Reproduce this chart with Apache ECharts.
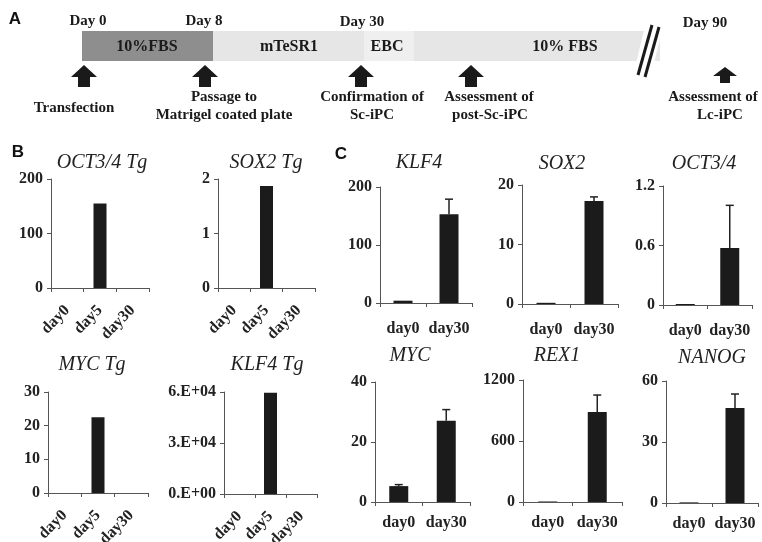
<!DOCTYPE html>
<html><head><meta charset="utf-8">
<script src="https://cdn.jsdelivr.net/npm/echarts@6/dist/echarts.min.js"></script>
<style>html,body{margin:0;padding:0;background:#fff}#c{width:762px;height:542px}</style>
</head><body><div id="c"></div>
<script>
// ---------- data ----------
const bCategories = ['day0', 'day5', 'day30'];
const cCategories = ['day0', 'day30'];

const bTitles = ['OCT3/4 Tg', 'SOX2 Tg', 'MYC Tg', 'KLF4 Tg'];
const oct34TgValues = [0, 155, 0];
const sox2TgValues = [0, 1.87, 0];
const mycTgValues = [0, 22.5, 0];
const klf4TgValues = [0, 59500, 0];
const bAxisMax = [200, 2, 30, 60000];
const bAxisStep = [100, 1, 10, 30000];

const cTitles = ['KLF4', 'SOX2', 'OCT3/4', 'MYC', 'REX1', 'NANOG'];
const klf4Values = [4, 153];     const klf4Errors = [0, 26];
const sox2Values = [0.2, 17.3];  const sox2Errors = [0, 0.7];
const oct34Values = [0.01, 0.575]; const oct34Errors = [0, 0.43];
const mycValues = [5.3, 27.1];   const mycErrors = [0.5, 3.7];
const rex1Values = [5, 885];     const rex1Errors = [0, 167];
const nanogValues = [0.3, 46.7]; const nanogErrors = [0, 6.9];
const cAxisMax = [200, 20, 1.2, 40, 1200, 60];
const cAxisStep = [100, 10, 0.6, 20, 600, 30];

const dayLabels = ['Day 0', 'Day 8', 'Day 30', 'Day 90'];
const stageLabels = ['10%FBS', 'mTeSR1', 'EBC', '10% FBS'];
const eventLabels = [['Transfection'], ['Passage to', 'Matrigel coated plate'], ['Confirmation of', 'Sc-iPC'], ['Assessment of', 'post-Sc-iPC'], ['Assessment of', 'Lc-iPC']];

// ---------- layout ----------
const SERIF = '"Liberation Serif", "Times New Roman", serif';
const SANS = '"Liberation Sans", Arial, sans-serif';
const AX = '#555';
const BAR = '#1b1b1b';

const bValues = [oct34TgValues, sox2TgValues, mycTgValues, klf4TgValues];
const bGrids = [
  {left: 51, top: 179, width: 98, height: 109},
  {left: 218, top: 179, width: 97, height: 109},
  {left: 48, top: 392, width: 100, height: 101},
  {left: 224, top: 392, width: 93, height: 102}
];
const bTitlePos = [[102, 163], [266, 163], [92, 365], [267, 365]];

const cValues = [klf4Values, sox2Values, oct34Values, mycValues, rex1Values, nanogValues];
const cErrors = [klf4Errors, sox2Errors, oct34Errors, mycErrors, rex1Errors, nanogErrors];
const cGrids = [
  {left: 380, top: 187, width: 92, height: 116},
  {left: 522, top: 185, width: 96, height: 119},
  {left: 663, top: 186, width: 89, height: 119},
  {left: 375, top: 382, width: 95, height: 120},
  {left: 523, top: 380, width: 99, height: 122},
  {left: 666, top: 381, width: 92, height: 122}
];
const cTitlePos = [[419, 163], [562, 164], [704, 164], [410, 356], [557, 356], [712, 358]];

const grids = [], xAxes = [], yAxes = [], series = [], graphics = [];

function sciFmt(v) {
  if (v === 0) return '0.E+00';
  const e = Math.floor(Math.log10(v));
  const m = Math.round(v / Math.pow(10, e));
  return m + '.E+' + String(e).padStart(2, '0');
}

function yAxisFor(i, max, step, fmt) {
  return {
    type: 'value', gridIndex: i, min: 0, max: max, interval: step,
    splitLine: {show: false},
    axisLine: {show: true, lineStyle: {color: AX, width: 1}},
    axisTick: {show: true, length: 4, lineStyle: {color: AX}},
    axisLabel: {fontFamily: SERIF, fontWeight: 'bold', fontSize: 16, color: '#222', margin: 8,
      formatter: fmt || (v => String(Math.round(v * 100) / 100))}
  };
}

function errorRender(params, api) {
  const x = api.value(0), v = api.value(1), e = api.value(2);
  if (!e) return null;
  const top = api.coord([x, v + e]);
  const base = api.coord([x, v]);
  const st = {stroke: '#222', lineWidth: 1.5};
  return {type: 'group', children: [
    {type: 'line', shape: {x1: top[0], y1: top[1], x2: base[0], y2: base[1]}, style: st},
    {type: 'line', shape: {x1: top[0] - 4, y1: top[1], x2: top[0] + 4, y2: top[1]}, style: st}
  ]};
}

function gridOf(g) {
  return Object.assign({containLabel: false, outerBoundsMode: 'none'}, g);
}

// Panel B
bValues.forEach((vals, k) => {
  const i = grids.length;
  grids.push(gridOf(bGrids[k]));
  xAxes.push({
    type: 'category', gridIndex: i, data: bCategories, boundaryGap: true,
    axisLine: {lineStyle: {color: AX, width: 1}},
    axisTick: {show: true, length: 4, alignWithLabel: false, lineStyle: {color: AX}},
    axisLabel: {rotate: 45, interval: 0, fontFamily: SERIF, fontWeight: 'bold', fontSize: 16, color: '#222', margin: 20}
  });
  yAxes.push(yAxisFor(i, bAxisMax[k], bAxisStep[k], k === 3 ? sciFmt : null));
  series.push({type: 'bar', xAxisIndex: i, yAxisIndex: i, data: vals, barWidth: 13,
    itemStyle: {color: BAR}, silent: true});
  graphics.push({type: 'text', x: bTitlePos[k][0], y: bTitlePos[k][1],
    style: {text: bTitles[k], font: 'italic 20px ' + SERIF, fill: '#222', align: 'center', verticalAlign: 'middle'}});
});

// Panel C
cValues.forEach((vals, k) => {
  const i = grids.length;
  grids.push(gridOf(cGrids[k]));
  xAxes.push({
    type: 'category', gridIndex: i, data: cCategories, boundaryGap: true,
    axisLine: {lineStyle: {color: AX, width: 1}},
    axisTick: {show: true, length: 4, alignWithLabel: false, lineStyle: {color: AX}},
    axisLabel: {interval: 0, fontFamily: SERIF, fontWeight: 'bold', fontSize: 16, color: '#222', margin: k < 3 ? 18 : 13}
  });
  yAxes.push(yAxisFor(i, cAxisMax[k], cAxisStep[k], null));
  series.push({type: 'bar', xAxisIndex: i, yAxisIndex: i, data: vals, barWidth: 19,
    itemStyle: {color: BAR}, silent: true});
  series.push({type: 'custom', xAxisIndex: i, yAxisIndex: i, renderItem: errorRender, z: 5,
    encode: {x: 0, y: 1},
    data: cCategories.map((c, j) => [j, vals[j], cErrors[k][j]])});
  graphics.push({type: 'text', x: cTitlePos[k][0], y: cTitlePos[k][1],
    style: {text: cTitles[k], font: 'italic 20px ' + SERIF, fill: '#222', align: 'center', verticalAlign: 'middle'}});
});

// Panel letters
[['A', 15, 19], ['B', 18, 152], ['C', 341, 154]].forEach(p => {
  graphics.push({type: 'text', x: p[1], y: p[2],
    style: {text: p[0], font: 'bold 17px ' + SANS, fill: '#111', align: 'center', verticalAlign: 'middle'}});
});

// Panel A timeline (schematic)
const barTop = 31, barH = 30;
graphics.push({type: 'rect', shape: {x: 213, y: barTop, width: 447, height: barH}, style: {fill: '#e6e6e6'}});
graphics.push({type: 'rect', shape: {x: 364, y: barTop, width: 50, height: barH}, style: {fill: '#efefef'}});
graphics.push({type: 'rect', shape: {x: 82, y: barTop, width: 131, height: barH}, style: {fill: '#8e8e8e'}});
// break marks
graphics.push({type: 'polygon', shape: {points: [[646, 22], [664, 22], [650, 80], [632, 80]]}, style: {fill: '#fff'}});
graphics.push({type: 'line', shape: {x1: 652, y1: 25, x2: 638, y2: 75}, style: {stroke: '#1a1a1a', lineWidth: 3}});
graphics.push({type: 'line', shape: {x1: 659, y1: 27, x2: 645, y2: 77}, style: {stroke: '#1a1a1a', lineWidth: 3}});

const dayX = [88, 204, 362, 705];
const dayY = [21, 21, 22, 23];
dayLabels.forEach((t, k) => graphics.push({type: 'text', x: dayX[k], y: dayY[k],
  style: {text: t, font: 'bold 15px ' + SERIF, fill: '#1a1a1a', align: 'center', verticalAlign: 'middle'}}));

const stageX = [147, 289, 387, 565];
stageLabels.forEach((t, k) => graphics.push({type: 'text', x: stageX[k], y: 47,
  style: {text: t, font: 'bold 16px ' + SERIF, fill: '#1a1a1a', align: 'center', verticalAlign: 'middle'}}));

const arrowX = [84, 205, 361, 471, 725];
arrowX.forEach((cx, k) => {
  const small = k === 4;
  const y0 = small ? 67 : 65, y1 = small ? 83 : 87, hh = small ? 9 : 12, hw = small ? 12 : 13, sw = small ? 5 : 6;
  graphics.push({type: 'polygon', shape: {points: [[cx, y0], [cx + hw, y0 + hh], [cx + sw, y0 + hh], [cx + sw, y1], [cx - sw, y1], [cx - sw, y0 + hh], [cx - hw, y0 + hh]]},
    style: {fill: '#1a1a1a'}});
});

const evX = [[74], [224, 224], [372, 372], [489, 490], [713, 720]];
eventLabels.forEach((lines, k) => {
  lines.forEach((t, j) => {
    const y = lines.length === 1 ? 108 : (j === 0 ? 97 : 115);
    graphics.push({type: 'text', x: evX[k][j], y: y,
      style: {text: t, font: 'bold 15px ' + SERIF, fill: '#1a1a1a', align: 'center', verticalAlign: 'middle'}});
  });
});

const chart = echarts.init(document.getElementById('c'), null, {renderer: 'canvas'});
chart.setOption({
  animation: false,
  backgroundColor: '#fff',
  grid: grids,
  xAxis: xAxes,
  yAxis: yAxes,
  series: series,
  graphic: graphics
});
</script>
</body></html>
